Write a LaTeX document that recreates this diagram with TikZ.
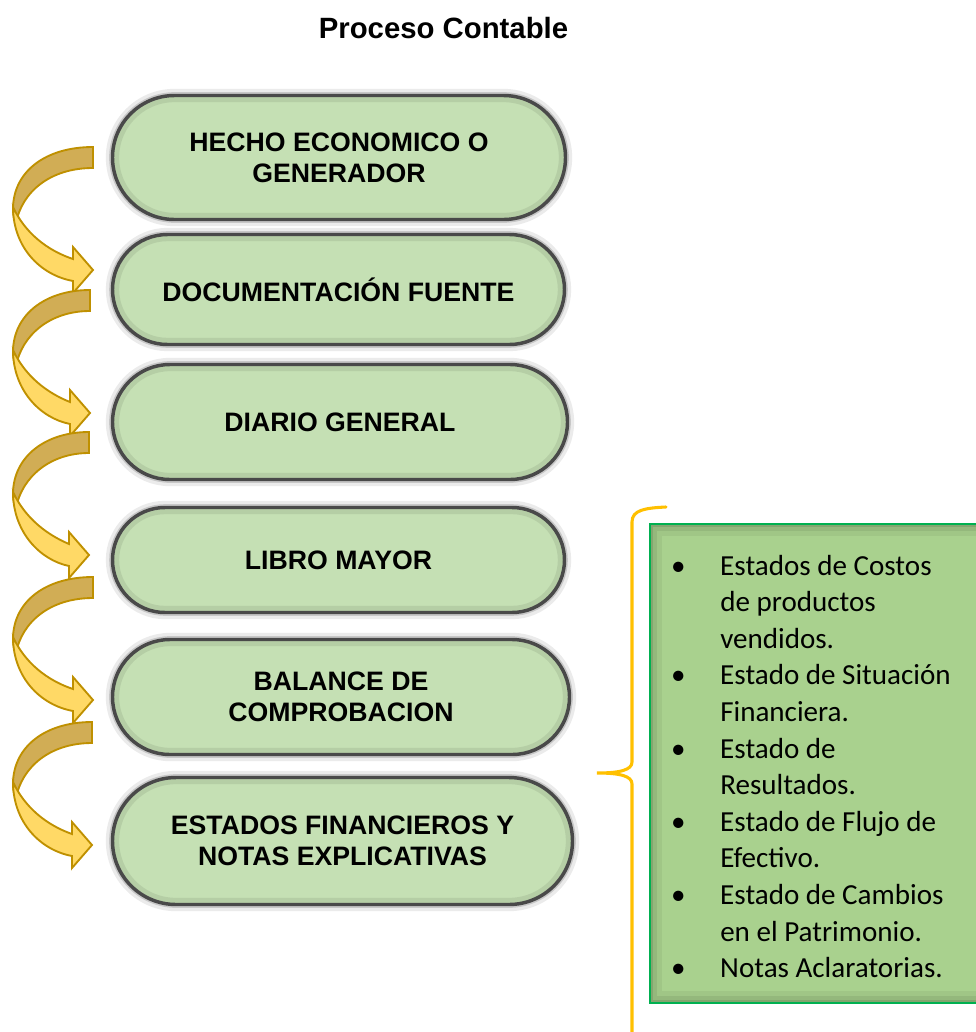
\documentclass[tikz,border=0pt]{standalone}
\usepackage{fontspec}
\setmainfont{Liberation Sans}
\newfontfamily\calib{Carlito}
\usetikzlibrary{shapes.misc}
\definecolor{pillfill}{HTML}{C5E0B4}
\definecolor{pilledge}{HTML}{505050}
\definecolor{arrowedge}{HTML}{BF9000}
\definecolor{arrowback}{HTML}{D1AD55}
\definecolor{arrowfront}{HTML}{FFD966}
\definecolor{listfill}{HTML}{A9D18E}
\definecolor{listedge}{HTML}{00B050}
\definecolor{bracecol}{HTML}{FFC000}
\begin{document}
\begin{tikzpicture}[x=0.75pt,y=-0.75pt,
  pill/.style={rounded rectangle, fill=pillfill, draw=pilledge, line width=2.6pt,
    inner sep=0pt, align=center, font=\bfseries\fontsize{20}{23}\selectfont,
    preaction={draw=black!15, line width=5pt},
    postaction={draw=black, opacity=0.08, line width=10pt}},
  arrowbackpart/.style={fill=arrowback, draw=arrowedge, line width=1.4pt, line join=miter},
  arrowfrontpart/.style={fill=arrowfront, draw=arrowedge, line width=1.4pt, line join=miter},
  titletext/.style={font=\bfseries\fontsize{22}{26}\selectfont, inner sep=0pt},
  listtext/.style={font=\calib\fontsize{21.8}{27.45}\selectfont, inner sep=0pt},
  bracestyle/.style={draw=bracecol, line width=2.3pt, line cap=round}
]
\useasboundingbox (0,0) rectangle (975,1032);

% title
\node[titletext, anchor=base] (title) at (443.5,38) {Proceso Contable};

% pills
\node[pill, minimum width=339.75pt, minimum height=93pt]   (n1) at (339,157.5) {HECHO ECONOMICO O\\GENERADOR};
\node[pill, minimum width=339pt,    minimum height=82.5pt] (n2) at (338.5,289.5) {DOCUMENTACIÓN FUENTE};
\node[pill, minimum width=341.25pt, minimum height=86.25pt] (n3) at (340,422) {DIARIO GENERAL};
\node[pill, minimum width=339pt,    minimum height=78.75pt] (n4) at (338.5,560) {LIBRO MAYOR};
\node[pill, minimum width=342.75pt, minimum height=86.25pt] (n5) at (341,697) {BALANCE DE\\COMPROBACION};
\node[pill, minimum width=345pt,    minimum height=95.25pt] (n6) at (342.5,841) {ESTADOS FINANCIEROS Y\\NOTAS EXPLICATIVAS};

% curved arrows
\foreach \ty/\tx in {147/93,290/90,432/89,577/93,722/92} {
  \begin{scope}[shift={(0,\ty)}]
    \path[arrowbackpart] (\tx,0) .. controls (45,0) and (13,25) .. (13,62)
      .. controls (13,68) and (14,72) .. (16,76)
      .. controls (22,45) and (50,21) .. (\tx,21) -- cycle;
    \path[arrowfrontpart] (13,60) .. controls (13,100) and (40,128) .. ({\tx-20},134)
      -- ({\tx-20},146) -- (\tx,123) -- ({\tx-20},100) -- ({\tx-20},112)
      .. controls (55,106) and (28,92) .. (13,60) -- cycle;
  \end{scope}
}

% list box
\begin{scope}
  \clip (650,524) rectangle (990,1003);
  \fill[listfill] (650,524) rectangle (990,1003);
  \foreach \w/\o in {18/0.05, 11/0.07, 5/0.10}
    \draw[black, opacity=\o, line width=\w pt] (650,524) rectangle (990,1003);
\end{scope}
\draw[listedge, line width=1.9pt] (650,524) rectangle (990,1003);

\node[listtext, anchor=base west] (list) at (668,575) {%
\begin{tabular}[t]{@{}l@{\hspace{24pt}}l@{}}
\makebox[15pt][c]{\textbullet} & Estados de Costos\\
 & de productos\\
 & vendidos.\\
\makebox[15pt][c]{\textbullet} & Estado de Situación\\
 & Financiera.\\
\makebox[15pt][c]{\textbullet} & Estado de\\
 & Resultados.\\
\makebox[15pt][c]{\textbullet} & Estado de Flujo de\\
 & Efectivo.\\
\makebox[15pt][c]{\textbullet} & Estado de Cambios\\
 & en el Patrimonio.\\
\makebox[15pt][c]{\textbullet} & Notas Aclaratorias.
\end{tabular}};

% brace
\coordinate (bracetop) at (666,507);
\coordinate (bracetip) at (597,773);
\coordinate (bracebot) at (632,1040);
\draw[bracestyle] (bracetop) .. controls (645,508) and (632,510) .. (632,522)
  -- (632,762) .. controls (632,770) and (620,773) .. (bracetip)
  .. controls (620,773) and (632,776) .. (632,784) -- (bracebot);
\end{tikzpicture}
\end{document}
